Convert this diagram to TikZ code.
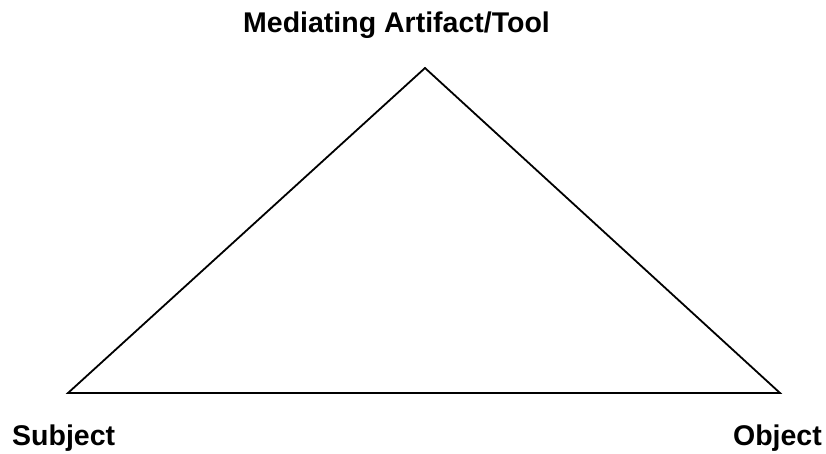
\documentclass[tikz,border=0pt]{standalone}
\usepackage{fontspec}
\setmainfont{Liberation Sans}
\begin{document}
\begin{tikzpicture}[x=1pt,y=-1pt,
  lbl/.style={font=\fontsize{28.5}{32}\selectfont\bfseries, inner sep=0pt},
  edge/.style={draw=black, line width=1.8pt, line join=miter}]
\useasboundingbox[fill=white] (0,0) rectangle (826,453);
\coordinate (top) at (425,68);
\coordinate (left) at (68,393);
\coordinate (right) at (780,393);
\draw[edge] (top) -- (left) -- (right) -- cycle;
\node[lbl, anchor=base] (tool) at (396.5,32) {Mediating Artifact/Tool};
\node[lbl, anchor=base west] (subject) at (12,445) {Subject};
\node[lbl, anchor=base east] (object) at (822,445) {Object};
\end{tikzpicture}
\end{document}
